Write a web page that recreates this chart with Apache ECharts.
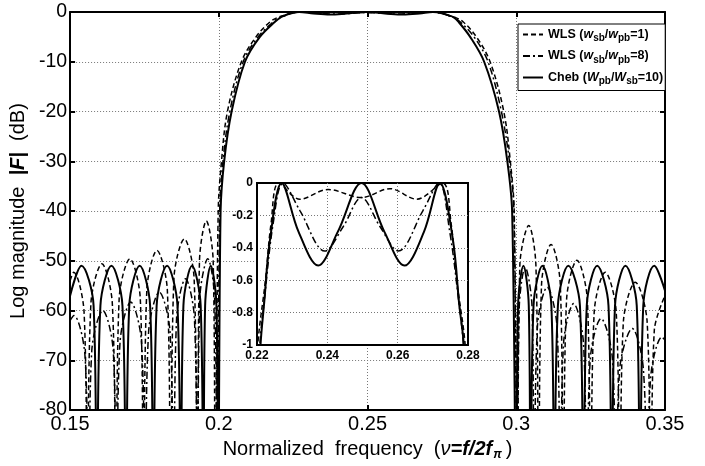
<!DOCTYPE html>
<html><head><meta charset="utf-8">
<script src="https://cdn.jsdelivr.net/npm/echarts@6/dist/echarts.min.js"></script>
<style>html,body{margin:0;padding:0;background:#fff}#c{width:705px;height:466px}</style>
</head><body><div id="c"></div>
<script>
// ---- data ----
const seriesNames = ['WLS1', 'WLS8', 'Cheb'];
const xTicks = [0.15, 0.2, 0.25, 0.3, 0.35];
const yTicks = [0, -10, -20, -30, -40, -50, -60, -70, -80];
const insetXTicks = [0.22, 0.24, 0.26, 0.28];
const insetYTicks = [0, -0.2, -0.4, -0.6, -0.8, -1];

// [normalized frequency, dB]; -100 marks a response null (below the plotted range)
const wls1 = [
  [0.15,-54],[0.1512,-52.3],[0.1547,-60.3],[0.1558,-100],
  [0.157,-58.6],[0.1607,-50.6],[0.1642,-58.6],[0.1654,-100],
  [0.1665,-57.6],[0.1701,-49.6],[0.1736,-57.6],[0.1747,-100],
  [0.1758,-55.9],[0.1792,-47.9],[0.1827,-55.9],[0.1838,-100],
  [0.1849,-53.6],[0.1884,-45.6],[0.1917,-53.6],[0.1928,-100],
  [0.1935,-50],[0.1958,-42],[0.1981,-50],[0.1988,-100],
  [0.1998,-40],[0.2009,-30],[0.2029,-20],[0.2076,-10],[0.2125,-5],[0.2172,-2],[0.2202,-1],[0.2224,-0.6],[0.2240,-0.25],[0.2262,0],
  [0.2322,-0.1],[0.2402,-0.04],[0.2497,-0.09],[0.2578,-0.035],[0.2654,-0.1],[0.2728,0],
  [0.2752,-0.25],[0.2768,-0.6],[0.2792,-1],[0.2822,-2],[0.2866,-5],[0.2912,-10],[0.2958,-20],[0.298,-30],[0.2993,-40],[0.3004,-100],
  [0.3012,-50.9],[0.3042,-42.9],[0.3066,-50.9],[0.3075,-100],
  [0.3085,-54.7],[0.3117,-46.7],[0.3148,-54.7],[0.3158,-100],
  [0.3169,-57.9],[0.3204,-49.9],[0.3239,-57.9],[0.325,-100],
  [0.3262,-60.3],[0.3299,-52.3],[0.3336,-60.3],[0.3348,-100],
  [0.336,-62.3],[0.34,-54.3],[0.344,-62.3],[0.3452,-100],
  [0.3464,-64],[0.35,-57]
];
const wls8 = [
  [0.15,-62],[0.1513,-61],[0.155,-69],[0.1562,-100],
  [0.1573,-68],[0.161,-60],[0.1645,-68],[0.1656,-100],
  [0.1668,-66.3],[0.1704,-58.3],[0.174,-66.3],[0.1752,-100],
  [0.1764,-64.3],[0.18,-56.3],[0.1836,-64.3],[0.1848,-100],
  [0.1858,-61.6],[0.1888,-53.6],[0.1918,-61.6],[0.1928,-100],
  [0.1936,-57.6],[0.1963,-49.6],[0.1986,-57.6],[0.1994,-100],
  [0.2003,-40],[0.2014,-30],[0.2037,-20],[0.2082,-10],[0.2132,-5],[0.2183,-2],[0.2208,-1],[0.2222,-0.7],[0.2246,-0.25],[0.2274,0],
  [0.2322,-0.17],[0.2393,-0.42],[0.2445,-0.27],[0.2497,-0.09],[0.255,-0.27],[0.2602,-0.42],[0.2672,-0.17],[0.2718,0],
  [0.2748,-0.3],[0.2772,-0.7],[0.2787,-1],[0.2812,-2],[0.2858,-5],[0.2905,-10],[0.295,-20],[0.2977,-30],[0.2992,-40],[0.3003,-100],
  [0.301,-59.3],[0.303,-51.3],[0.3053,-59.3],[0.306,-100],
  [0.3071,-63.3],[0.3104,-55.3],[0.3137,-63.3],[0.3148,-100],
  [0.3159,-66.6],[0.3193,-58.6],[0.3226,-66.6],[0.3237,-100],
  [0.3249,-69.6],[0.3285,-61.6],[0.3323,-69.6],[0.3335,-100],
  [0.3348,-71.6],[0.339,-63.6],[0.3427,-71.6],[0.344,-100],
  [0.3452,-73.3],[0.349,-65.3],[0.35,-66]
];
const cheb = [
  [0.15,-57],[0.1538,-51],[0.1579,-59],[0.159,-100],
  [0.1602,-59],[0.1639,-51],[0.1676,-59],[0.1688,-100],
  [0.1699,-59],[0.1734,-51],[0.1769,-59],[0.178,-100],
  [0.1791,-59],[0.1826,-51],[0.1861,-59],[0.1872,-100],
  [0.1881,-59],[0.191,-51],[0.1939,-59],[0.1948,-100],
  [0.1954,-59],[0.1973,-51],[0.1992,-59],[0.1998,-100],
  [0.2006,-40],[0.2018,-30],[0.2043,-20],[0.2088,-10],[0.2138,-5],[0.2188,-2],[0.2210,-1],[0.2220,-0.75],[0.2237,-0.35],[0.227,0],
  [0.2318,-0.3],[0.2374,-0.51],[0.243,-0.3],[0.2497,0],[0.2562,-0.3],[0.2619,-0.51],[0.2675,-0.3],[0.272,0],
  [0.2757,-0.35],[0.2775,-0.75],[0.2788,-1],[0.2806,-2],[0.2845,-5],[0.2892,-10],[0.2942,-20],[0.297,-30],[0.2986,-40],[0.3,-100],
  [0.3006,-59],[0.3024,-51],[0.3042,-59],[0.3048,-100],
  [0.3058,-59],[0.3088,-51],[0.3118,-59],[0.3128,-100],
  [0.314,-59],[0.3175,-51],[0.3214,-59],[0.3226,-100],
  [0.3237,-59],[0.3272,-51],[0.331,-59],[0.3321,-100],
  [0.3332,-59],[0.3367,-51],[0.3405,-59],[0.3416,-100],
  [0.3427,-59],[0.3464,-51],[0.35,-56]
];
const seriesData = {WLS1: wls1, WLS8: wls8, Cheb: cheb};
const legendText = {
  WLS1: '{t|WLS (}{i|w}{s|sb}{t|/}{i|w}{s|pb}{t|=1)}',
  WLS8: '{t|WLS (}{i|w}{s|sb}{t|/}{i|w}{s|pb}{t|=8)}',
  Cheb: '{t|Cheb (}{i|W}{s|pb}{t|/}{i|W}{s|sb}{t|=10)}'
};
const lineStyles = {
  WLS1: {type: [5, 3], width: 1.5},
  WLS8: {type: [7, 3, 2, 3], width: 1.5},
  Cheb: {type: 'solid', width: 2}
};

const FONT = '"Liberation Sans", Arial, sans-serif';
const fmt = v => String(+Number(v).toFixed(2));
const gridLine = {show: true, lineStyle: {color: '#777', type: [1, 2], width: 1}, showMinLine: false, showMaxLine: false};

const series = [];
seriesNames.forEach(n => {
  series.push({name: n, type: 'line', xAxisIndex: 0, yAxisIndex: 0, data: seriesData[n], smooth: 0.35,
    symbol: 'none', clip: true, z: 2, lineStyle: Object.assign({color: '#000'}, lineStyles[n]), itemStyle: {color: '#000'}});
  series.push({name: n, type: 'line', xAxisIndex: 2, yAxisIndex: 2, data: seriesData[n], smooth: 0.35,
    symbol: 'none', clip: true, z: 8, lineStyle: Object.assign({color: '#000'}, lineStyles[n]), itemStyle: {color: '#000'}});
});

const chart = echarts.init(document.getElementById('c'), null, {renderer: 'canvas'});
chart.setOption({
  animation: false,
  backgroundColor: '#fff',
  textStyle: {fontFamily: FONT},
  grid: [
    {left: 68, top: 12, width: 597, height: 400, show: false},
    {left: 257, top: 183, width: 211, height: 162, show: true, backgroundColor: '#fff', borderColor: '#000', borderWidth: 2, z: 5}
  ],
  legend: {
    data: seriesNames, orient: 'vertical', left: 518, top: 24, z: 10,
    backgroundColor: '#fff', borderColor: '#000', borderWidth: 1, padding: [4, 2, 4, 4],
    itemGap: 6, itemWidth: 20, itemHeight: 12, itemStyle: {opacity: 0},
    formatter: n => legendText[n],
    textStyle: {fontFamily: FONT, color: '#000', rich: {
      t: {fontSize: 12.5, fontWeight: 'bold', fontFamily: FONT, lineHeight: 18, verticalAlign: 'middle'},
      i: {fontSize: 12.5, fontWeight: 'bold', fontStyle: 'italic', fontFamily: FONT, lineHeight: 18, verticalAlign: 'middle'},
      s: {fontSize: 10, fontWeight: 'bold', fontFamily: FONT, lineHeight: 11, verticalAlign: 'bottom'}
    }}
  },
  xAxis: [
    {type: 'value', gridIndex: 0, min: 0.15, max: 0.35, interval: 0.05, position: 'bottom',
      axisLine: {show: true, onZero: false, lineStyle: {color: '#000', width: 2}},
      axisTick: {show: true, inside: true, length: 5, lineStyle: {color: '#000', width: 2}},
      axisLabel: {show: true, formatter: fmt, fontSize: 20, color: '#000', margin: 4, fontFamily: FONT},
      splitLine: gridLine,
      name: '{n|Normalized  frequency  (}{v|ν}{b|=f/2f}{s|π}{n|)}', nameLocation: 'middle', nameGap: 21,
      nameTextStyle: {rich: {
        n: {fontSize: 20, fontFamily: FONT, color: '#000', lineHeight: 24},
        v: {fontSize: 20, fontFamily: FONT, fontStyle: 'italic', color: '#000', lineHeight: 24},
        b: {fontSize: 20, fontFamily: FONT, fontStyle: 'italic', fontWeight: 'bold', color: '#000', lineHeight: 24},
        s: {fontSize: 12, fontFamily: FONT, fontStyle: 'italic', fontWeight: 'bold', color: '#000', lineHeight: 14, verticalAlign: 'bottom', padding: [0, 4, 0, 1]}
      }}},
    {type: 'value', gridIndex: 0, min: 0.15, max: 0.35, interval: 0.05, position: 'top',
      axisLine: {show: true, onZero: false, lineStyle: {color: '#000', width: 2}},
      axisTick: {show: true, inside: true, length: 5, lineStyle: {color: '#000', width: 2}},
      axisLabel: {show: false}, splitLine: {show: false}},
    {type: 'value', gridIndex: 1, min: 0.22, max: 0.28, interval: 0.02, position: 'bottom', z: 6,
      axisLine: {show: true, onZero: false, lineStyle: {color: '#000', width: 2}},
      axisTick: {show: false},
      axisLabel: {show: true, formatter: fmt, fontSize: 12, fontWeight: 'bold', color: '#000', margin: 5, fontFamily: FONT},
      splitLine: gridLine}
  ],
  yAxis: [
    {type: 'value', gridIndex: 0, min: -80, max: 0, interval: 10, position: 'left',
      axisLine: {show: true, onZero: false, lineStyle: {color: '#000', width: 2}},
      axisTick: {show: true, inside: true, length: 5, lineStyle: {color: '#000', width: 2}},
      axisLabel: {show: true, fontSize: 19.5, color: '#000', margin: 3, fontFamily: FONT},
      splitLine: gridLine,
      name: '{n|Log magnitude  }{f||F|}{n|  (dB)}', nameLocation: 'middle', nameGap: 34, nameRotate: 90,
      nameTextStyle: {rich: {
        n: {fontSize: 20, fontFamily: FONT, color: '#000'},
        f: {fontSize: 20, fontFamily: FONT, fontStyle: 'italic', fontWeight: 'bold', color: '#000'}
      }}},
    {type: 'value', gridIndex: 0, min: -80, max: 0, interval: 10, position: 'right',
      axisLine: {show: true, onZero: false, lineStyle: {color: '#000', width: 2}},
      axisTick: {show: true, inside: true, length: 5, lineStyle: {color: '#000', width: 2}},
      axisLabel: {show: false}, splitLine: {show: false}},
    {type: 'value', gridIndex: 1, min: -1, max: 0, interval: 0.2, position: 'left', z: 6,
      axisLine: {show: true, onZero: false, lineStyle: {color: '#000', width: 2}},
      axisTick: {show: false},
      axisLabel: {show: true, formatter: fmt, fontSize: 12, fontWeight: 'bold', color: '#000', margin: 4, fontFamily: FONT},
      splitLine: gridLine}
  ],
  series: series
});
</script></body></html>
